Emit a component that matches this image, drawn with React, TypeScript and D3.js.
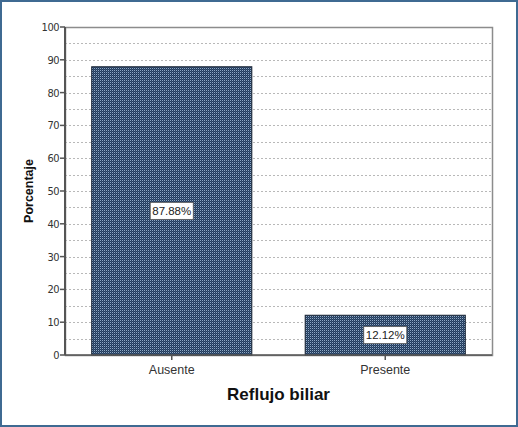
import React from "react";
import * as d3 from "d3";

const categories = ["Ausente", "Presente"];
const values = [87.88, 12.12];
const valueLabels = ["87.88%", "12.12%"];
const yTicks = [0, 10, 20, 30, 40, 50, 60, 70, 80, 90, 100];
const gridValues = [5, 10, 15, 20, 25, 30, 35, 40, 45, 50, 55, 60, 65, 70, 75, 80, 85, 90, 95];
const xTitle = "Reflujo biliar";
const yTitle = "Porcentaje";

const W = 518;
const H = 427;
const plot = { left: 65, right: 492, top: 27, bottom: 355 };

export default function App() {
  const x = d3
    .scaleBand<string>()
    .domain(categories)
    .range([plot.left, plot.right])
    .paddingInner(0.25)
    .paddingOuter(0.125);
  const y = d3.scaleLinear().domain([0, 100]).range([plot.bottom, plot.top]);
  const font = "Arial, 'Liberation Sans', sans-serif";

  return (
    <svg
      width={W}
      height={H}
      style={{ position: "absolute", left: 0, top: 0, display: "block" }}
      fontFamily={font}
    >
      <defs>
        <pattern id="chk" width={2} height={2} patternUnits="userSpaceOnUse">
          <rect width={2} height={2} fill="#22395a" />
          <rect x={0} y={0} width={1} height={1} fill="#8ea9c6" />
          <rect x={1} y={1} width={1} height={1} fill="#3a5677" />
        </pattern>
      </defs>
      <rect x={0} y={0} width={W} height={H} fill="#fff" />
      <rect x={1} y={1} width={W - 2} height={H - 2} fill="none" stroke="#3f6a92" strokeWidth={2} />

      {/* grid */}
      {gridValues.map((g) => (
        <line
          key={g}
          x1={plot.left}
          x2={plot.right}
          y1={Math.round(y(g)) + 0.5}
          y2={Math.round(y(g)) + 0.5}
          stroke="#b8b8b8"
          strokeWidth={1}
          strokeDasharray="2,2"
        />
      ))}

      {/* frame */}
      <rect
        x={plot.left + 0.5}
        y={plot.top + 0.5}
        width={plot.right - plot.left}
        height={plot.bottom - plot.top}
        fill="none"
        stroke="#8c8c8c"
        strokeWidth={1.5}
      />

      {/* bars */}
      {categories.map((c, i) => (
        <rect
          key={c}
          x={x(c)!}
          y={y(values[i])}
          width={x.bandwidth()}
          height={y(0) - y(values[i])}
          fill="url(#chk)"
          stroke="#1a2535"
          strokeWidth={1}
        />
      ))}

      {/* value labels */}
      {categories.map((c, i) => {
        const cx = x(c)! + x.bandwidth() / 2;
        const cy = (y(values[i]) + y(0)) / 2;
        const bw = 43;
        const bh = 17;
        return (
          <g key={"l" + c}>
            <rect
              x={cx - bw / 2}
              y={cy - bh / 2}
              width={bw}
              height={bh}
              fill="#fff"
              stroke="#555"
              strokeWidth={0.8}
            />
            <text x={cx} y={cy + 4} textAnchor="middle" fontSize={11.5} fill="#222">
              {valueLabels[i]}
            </text>
          </g>
        );
      })}

      {/* y axis */}
      <line x1={plot.left} x2={plot.left} y1={plot.top} y2={plot.bottom} stroke="#555" strokeWidth={2} />
      {yTicks.map((t) => (
        <g key={t}>
          <line x1={plot.left - 5} x2={plot.left} y1={y(t)} y2={y(t)} stroke="#555" strokeWidth={1.5} />
          <text x={plot.left - 6} y={y(t) + 4} textAnchor="end" fontSize={11} fill="#333" fontFamily="'DejaVu Sans Condensed', 'Liberation Sans Narrow', sans-serif" letterSpacing={-0.5}>
            {t}
          </text>
        </g>
      ))}

      {/* x axis */}
      <line x1={plot.left} x2={plot.right} y1={plot.bottom} y2={plot.bottom} stroke="#555" strokeWidth={1.5} />
      {categories.map((c) => {
        const cx = x(c)! + x.bandwidth() / 2;
        return (
          <g key={"x" + c}>
            <line x1={cx} x2={cx} y1={plot.bottom} y2={plot.bottom + 5} stroke="#555" strokeWidth={1.5} />
            <text x={cx} y={plot.bottom + 19} textAnchor="middle" fontSize={12.5} fill="#333">
              {c}
            </text>
          </g>
        );
      })}

      {/* titles */}
      <text x={(plot.left + plot.right) / 2} y={400} textAnchor="middle" fontSize={17} fontWeight="bold" fill="#111">
        {xTitle}
      </text>
      <text
        transform={`translate(33, ${(plot.top + plot.bottom) / 2}) rotate(-90)`}
        textAnchor="middle"
        fontSize={12.5}
        fontWeight="bold"
        fill="#111"
      >
        {yTitle}
      </text>
    </svg>
  );
}
